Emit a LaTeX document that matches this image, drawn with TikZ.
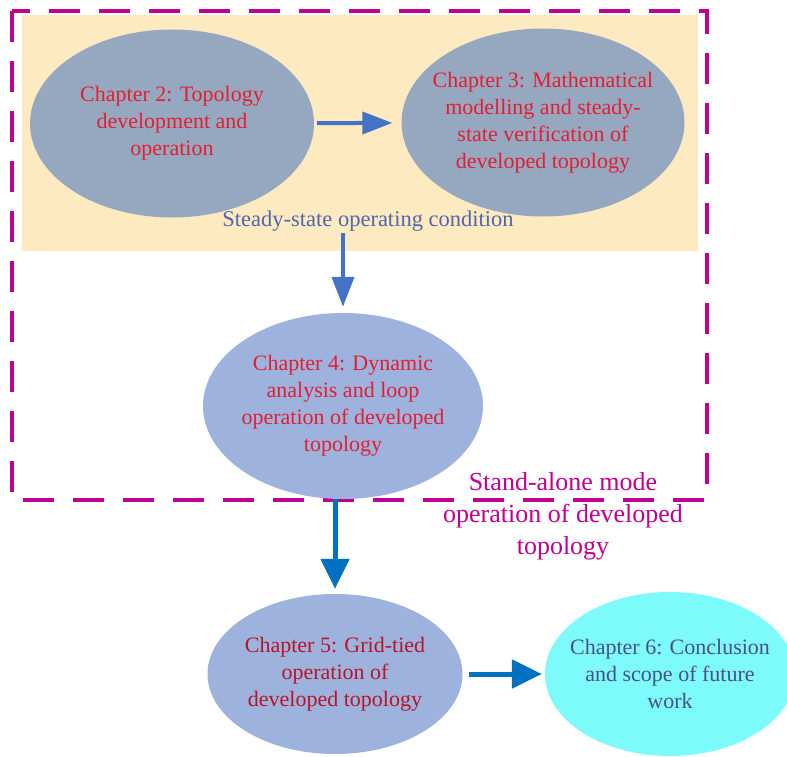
\documentclass[tikz,border=0pt]{standalone}
\usepackage{fontspec}
\setmainfont{Liberation Serif}
\usetikzlibrary{shapes.geometric,arrows.meta}
\definecolor{magentaline}{RGB}{192,0,142}
\definecolor{yellowbg}{RGB}{253,234,192}
\definecolor{greyblue}{RGB}{150,168,192}
\definecolor{periwinkle}{RGB}{157,178,220}
\definecolor{cyanfill}{RGB}{125,250,250}
\definecolor{redtext}{RGB}{228,30,50}
\definecolor{darkredtext}{RGB}{185,20,40}
\definecolor{navytext}{RGB}{72,80,140}
\definecolor{condtext}{RGB}{82,102,170}
\definecolor{arrowA}{RGB}{68,114,196}
\definecolor{arrowB}{RGB}{0,112,192}
\tikzset{
  chap/.style={ellipse, inner sep=-55pt, align=center, draw=none,
    font=\fontsize{22pt}{27pt}\selectfont},
  arrA/.style={draw=arrowA, line width=4pt, -{Triangle[length=30pt,width=22pt]}},
  arrB/.style={draw=arrowB, line width=5pt, -{Triangle[length=30pt,width=28pt]}},
}
\begin{document}
\begin{tikzpicture}[x=1pt,y=-1pt]
\useasboundingbox (0,0) rectangle (787,757);
\clip (0,0) rectangle (787,757);
% backgrounds
\fill[yellowbg] (22,15) rectangle (698,251);
\draw[magentaline, line width=4pt, dash pattern=on 31pt off 19pt] (12,11) rectangle (707,500);
% nodes
\node[chap, fill=greyblue, text=redtext, minimum width=284pt, minimum height=188pt] (ch2) at (172,123.5)
  {Chapter 2: Topology\\development and\\operation};
\node[chap, fill=greyblue, text=redtext, minimum width=283pt, minimum height=188pt] (ch3) at (543,122.5)
  {Chapter 3: Mathematical\\modelling and steady-\\state verification of\\developed topology};
\node[font=\fontsize{22.5pt}{27pt}\selectfont, text=condtext, inner sep=1pt] (cond) at (368,221.5)
  {Steady-state operating condition};
\node[chap, fill=periwinkle, text=redtext, minimum width=280pt, minimum height=186pt] (ch4) at (343,406)
  {Chapter 4: Dynamic\\analysis and loop\\operation of developed\\topology};
\node[align=center, text=magentaline, font=\fontsize{26pt}{32pt}\selectfont] (mode) at (563,516.5)
  {Stand-alone mode\\operation of developed\\topology};
\node[chap, fill=periwinkle, text=darkredtext, minimum width=255pt, minimum height=160pt] (ch5) at (335,674)
  {Chapter 5: Grid-tied\\operation of\\developed topology};
\node[chap, fill=cyanfill, text=navytext, minimum width=250pt, minimum height=164pt] (ch6) at (670,674)
  {Chapter 6: Conclusion\\and scope of future\\work};
% connectors
\draw[arrA, shorten <=3pt, shorten >=9pt] (ch2) -- (ch3);
\draw[arrA, shorten >=6pt] (ch4.north |- cond.south) -- (ch4.north);
\draw[arrB, shorten >=5pt] (ch4.south -| ch5.north) -- (ch5.north);
\draw[arrB, shorten <=6pt, shorten >=3pt] (ch5) -- (ch6);
\end{tikzpicture}
\end{document}
